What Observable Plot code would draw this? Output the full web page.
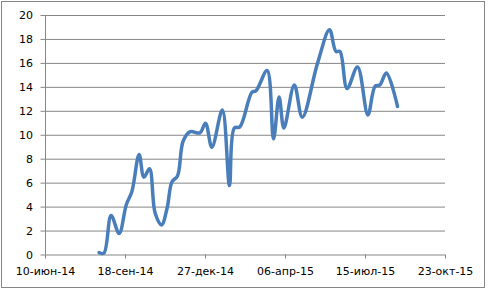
<!DOCTYPE html>
<html>
<head>
<meta charset="utf-8">
<script src="https://cdn.jsdelivr.net/npm/d3@7"></script>
<script src="https://cdn.jsdelivr.net/npm/@observablehq/plot@0.6"></script>
<style>
  html, body { margin: 0; padding: 0; background: #fff; }
  #wrap { position: relative; width: 488px; height: 291px; }
  #border { position: absolute; left: 1px; top: 1px; width: 482px; height: 285px; border: 1px solid #868686; pointer-events: none; }
</style>
</head>
<body>
<div id="wrap"><div id="border"></div></div>
<script>
const dates = [
  "2014-08-16","2014-08-22","2014-08-31","2014-09-10","2014-09-19","2014-09-26",
  "2014-10-05","2014-10-11","2014-10-18","2014-10-25","2014-11-02","2014-11-09",
  "2014-11-15","2014-11-22","2014-11-29","2014-12-08","2014-12-20","2014-12-27",
  "2015-01-04","2015-01-17","2015-01-26","2015-02-01","2015-02-08","2015-02-23",
  "2015-02-28","2015-03-14","2015-03-22","2015-03-29","2015-04-04","2015-04-17",
  "2015-04-27","2015-05-16","2015-05-31","2015-06-08","2015-06-13","2015-06-22",
  "2015-07-05","2015-07-18","2015-07-27","2015-08-02","2015-08-10","2015-08-24"
];
const values = [
  0.2, 0.15, 3.3, 1.8, 4.2, 5.3,
  8.4, 6.5, 7.2, 3.5, 2.5, 3.9,
  6.1, 6.6, 9.5, 10.3, 10.2, 11.0,
  9.0, 12.1, 5.8, 10.6, 10.7, 13.6,
  13.7, 15.4, 9.7, 13.2, 10.6, 14.2,
  11.5, 16.0, 18.8, 17.0, 17.0, 13.9,
  15.7, 11.7, 14.1, 14.2, 15.2, 12.4
];
const xTickDates = ["2014-06-10","2014-09-18","2014-12-27","2015-04-06","2015-07-15","2015-10-23"];
const xTickLabels = ["10-июн-14","18-сен-14","27-дек-14","06-апр-15","15-июл-15","23-окт-15"];
const yTicks = [0, 2, 4, 6, 8, 10, 12, 14, 16, 18, 20];

const data = dates.map((d, i) => ({date: new Date(d), value: values[i]}));
const xt = xTickDates.map(d => new Date(d));
const labelOf = new Map(xt.map((d, i) => [+d, xTickLabels[i]]));

const chart = Plot.plot({
  width: 488,
  height: 291,
  marginLeft: 45,
  marginRight: 43,
  marginTop: 15,
  marginBottom: 36.5,
  style: {fontFamily: "DejaVu Sans", fontSize: "11px", color: "#000", background: "transparent"},
  x: {type: "utc", domain: [xt[0], xt[xt.length - 1]]},
  y: {domain: [0, 20]},
  marks: [
    Plot.ruleY(yTicks, {stroke: "#868686", strokeWidth: 1, strokeOpacity: 1}),
    Plot.ruleX([xt[0]], {y1: 0, y2: 20, stroke: "#868686", strokeOpacity: 1}),
    Plot.axisY({ticks: yTicks, tickSize: 4.5, tickPadding: 8, stroke: "#868686", strokeOpacity: 1, label: null, fill: "#000"}),
    Plot.axisX({ticks: xt, tickSize: 4, tickPadding: 8, stroke: "#868686", strokeOpacity: 1, label: null, fill: "#000",
      tickFormat: d => labelOf.get(+d)}),
    Plot.line(data, {x: "date", y: "value", stroke: "#4a7ebb", strokeWidth: 3.5, curve: "catmull-rom"})
  ]
});
document.getElementById("wrap").insertBefore(chart, document.getElementById("border"));
</script>
</body>
</html>
